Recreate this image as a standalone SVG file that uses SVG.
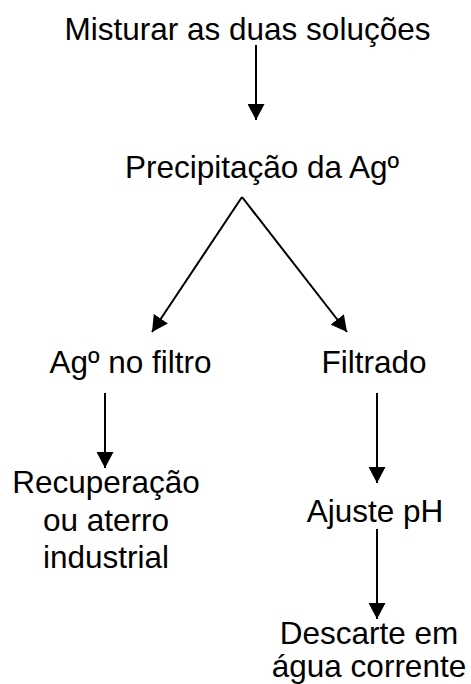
<svg xmlns="http://www.w3.org/2000/svg" width="471" height="684" viewBox="0 0 471 684">
<style>
text{font-family:"Liberation Sans",Arial,sans-serif;font-size:31.5px;fill:#000;text-anchor:middle}
.c{stroke:#000;stroke-width:2;fill:none}
</style>
<defs>
<marker id="ah" markerWidth="16" markerHeight="17" viewBox="0 0 16 17" refX="16" refY="8.5" orient="auto" markerUnits="userSpaceOnUse">
<path d="M0,0 L16,8.5 L0,17 Z" fill="#000"/>
</marker>
</defs>
<rect width="471" height="684" fill="#fff"/>
<g id="n1"><text x="247.5" y="40">Misturar as duas soluções</text></g>
<g id="n2"><text x="262" y="178">Precipitação da Agº</text></g>
<g id="n3"><text x="130.5" y="373">Agº no filtro</text></g>
<g id="n4"><text x="374" y="373">Filtrado</text></g>
<g id="n5"><text x="106" y="493"><tspan x="106" y="493">Recuperação</tspan><tspan x="106" y="530.5">ou aterro</tspan><tspan x="106" y="568">industrial</tspan></text></g>
<g id="n6"><text x="375" y="522">Ajuste pH</text></g>
<g id="n7"><text x="369" y="644"><tspan x="369" y="644">Descarte em</tspan><tspan x="369" y="676.5">água corrente</tspan></text></g>
<g id="connectors">
<line class="c" x1="256" y1="45" x2="256" y2="120" marker-end="url(#ah)"/>
<line class="c" x1="242" y1="197" x2="152" y2="332" marker-end="url(#ah)"/>
<line class="c" x1="242" y1="197" x2="347" y2="332" marker-end="url(#ah)"/>
<line class="c" x1="105" y1="393" x2="105" y2="468" marker-end="url(#ah)"/>
<line class="c" x1="377" y1="393" x2="377" y2="483" marker-end="url(#ah)"/>
<line class="c" x1="377" y1="529" x2="377" y2="619" marker-end="url(#ah)"/>
</g>
</svg>
